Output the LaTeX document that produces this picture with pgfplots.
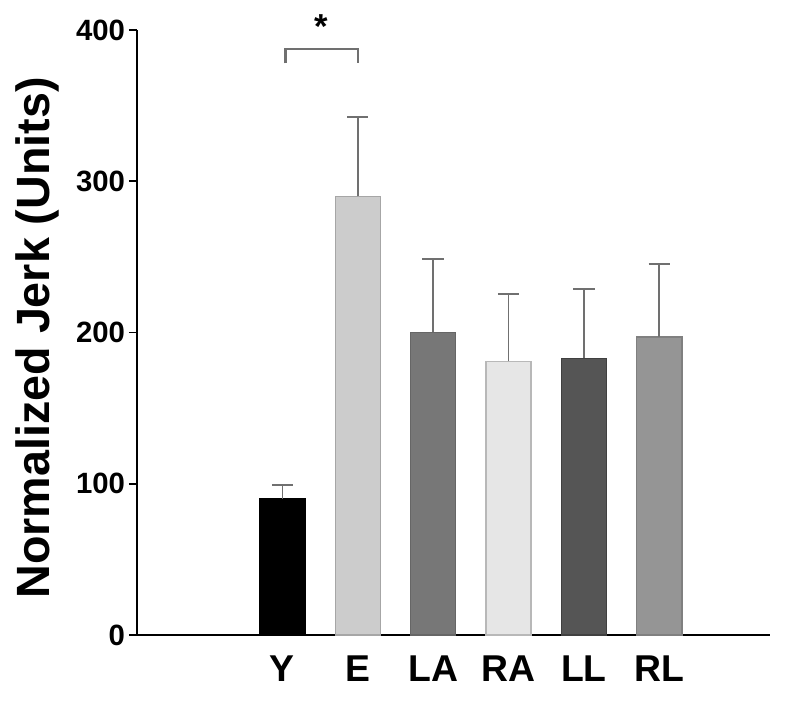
\documentclass[border=0pt]{standalone}
\usepackage{pgfplots}
\pgfplotsset{compat=1.18}
\usepackage{fontspec}
\setmainfont{Liberation Sans}

\definecolor{cY}{HTML}{000000}
\definecolor{cE}{HTML}{CCCCCC}
\definecolor{cLA}{HTML}{777777}
\definecolor{cRA}{HTML}{E6E6E6}
\definecolor{cLL}{HTML}{555555}
\definecolor{cRL}{HTML}{959595}
\definecolor{errc}{HTML}{707070}

\begin{document}
\begin{tikzpicture}
\begin{axis}[
    scale only axis,
    width=474.75pt, height=453.75pt,
    xmin=-1.93, xmax=6.47,
    ymin=0, ymax=400,
    axis x line=bottom, axis y line=left,
    axis line style={black, line width=1.5pt, -},
    ytick={0,100,200,300,400},
    xtick={0,1,2,3,4,5},
    xticklabels={Y,E,LA,RA,LL,RL},
    /pgf/number format/assume math mode=true,
    yticklabel style={font=\fontsize{22}{22}\selectfont\bfseries, xshift=0.5pt},
    xticklabel style={font=\fontsize{28}{28}\selectfont\bfseries, yshift=-6pt},
    ytick style={black, line width=1.3pt},
    xtick style={draw=none},
    tick align=outside,
    major tick length=6pt,
    ylabel={Normalized Jerk (Units)},
    every axis y label/.style={at={(rel axis cs:0,0.5)}, xshift=-75pt, yshift=-4pt, rotate=90, anchor=center,
        font=\fontsize{35}{35}\selectfont\bfseries},
    ybar, bar width=0.6, bar shift=0pt,
    clip=false,
    error bars/y dir=plus, error bars/y explicit,
    error bars/error mark=|,
    error bars/error mark options={errc, line width=1.4pt, mark size=8pt},
    error bars/error bar style={errc, line width=1.4pt},
]
\addplot[fill=cY, draw=black, line width=1pt] coordinates {(0,90) +- (0,9)};
\addplot[fill=cE, draw=black!35, line width=1pt] coordinates {(1,290) +- (0,52.5)};
\addplot[fill=cLA, draw=black!60, line width=1pt] coordinates {(2,200) +- (0,48.6)};
\addplot[fill=cRA, draw=black!28, line width=1pt] coordinates {(3,181) +- (0,44.5)};
\addplot[fill=cLL, draw=black!75, line width=1pt] coordinates {(4,183) +- (0,46)};
\addplot[fill=cRL, draw=black!50, line width=1pt] coordinates {(5,197) +- (0,48)};
% significance bracket
\draw[errc, line width=1.8pt] (axis cs:0.04,378) -- (axis cs:0.04,387.4) -- (axis cs:1,387.4) -- (axis cs:1,378);
\node[font=\fontsize{26}{26}\selectfont\bfseries] at (axis cs:0.52,402) {*};
\end{axis}
\path ([shift={(-102.75pt,-54.75pt)}]current axis.south west) rectangle ([shift={(22.5pt,22.5pt)}]current axis.north east);
\end{tikzpicture}
\end{document}
